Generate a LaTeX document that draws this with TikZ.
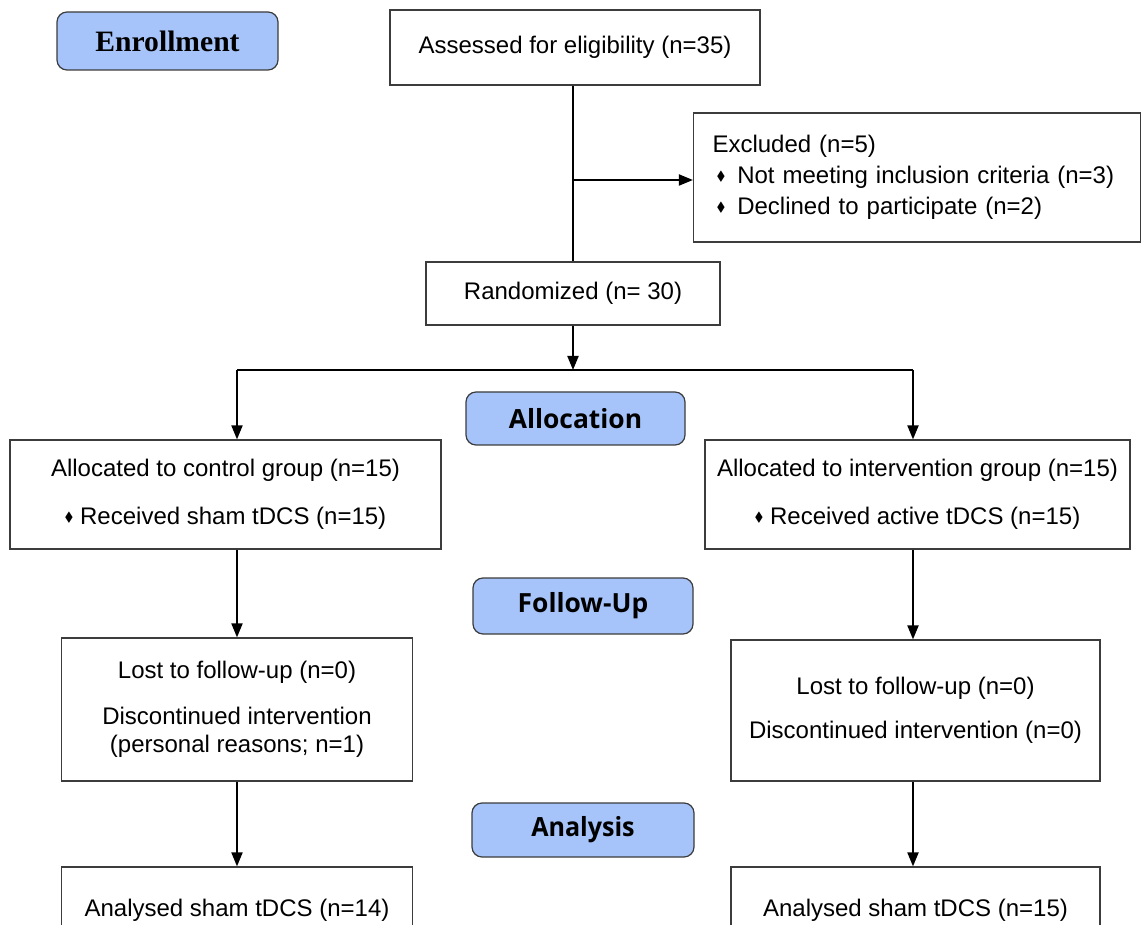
\documentclass[tikz,border=0pt]{standalone}
\usepackage{amssymb}
\usepackage{fontspec}
\setmainfont{Liberation Sans}
\newfontfamily\headfont{Open Sans}
\newfontfamily\serifhead{Liberation Serif}
\usetikzlibrary{positioning,shapes,arrows,arrows.meta}

\definecolor{stageblue}{RGB}{166,196,250}
\definecolor{edgegray}{RGB}{60,60,60}
\newcommand{\dia}{\raisebox{0.25ex}{\scalebox{0.55}{$\blacklozenge$}}\ }

\tikzset{
  box/.style={draw=edgegray,line width=0.6pt,align=center,inner sep=0pt,font=\fontsize{12}{14}\selectfont},
  stage/.style={draw=edgegray,line width=0.6pt,rounded corners=5pt,fill=stageblue,inner sep=0pt,font=\headfont\bfseries\fontsize{13.2}{16}\selectfont},
  flow/.style={line width=1pt,-{Triangle[length=7pt,width=5.5pt]}},
  plain/.style={line width=1pt}
}

\begin{document}
\begin{tikzpicture}[x=0.5pt,y=-0.5pt]
        \path[use as bounding box,clip] (0,0) rectangle (1142,925);
        % stage labels
        \node[stage,minimum width=110.5pt,minimum height=29pt,font=\serifhead\bfseries\fontsize{14.8}{16}\selectfont] (enrol) at (167.5,41) {Enrollment};
        \node[stage,minimum width=109.5pt,minimum height=26.5pt] (alloc) at (575.5,418.5) {Allocation};
        \node[stage,minimum width=110pt,minimum height=28pt] (follow) at (583,606) {Follow-Up};
        \node[stage,minimum width=111pt,minimum height=27pt] (anal) at (583,830) {\scalebox{0.95}[1]{Analysis}};
        % boxes
        \node[box,minimum width=185pt,minimum height=37.5pt] (assess) at (575,47.5) {Assessed for eligibility (n=35)};
        \node[box,minimum height=64.5pt,align=left,text width=204.5pt,inner xsep=9.5pt] (excl) at (917,177.5)
            {Excluded (n=5)\\[1.5pt]
             \hspace*{2pt}\dia\hspace*{2pt}Not meeting inclusion criteria (n=3)\\[1.5pt]
             \hspace*{2pt}\dia\hspace*{2pt}Declined to participate (n=2)};
        \node[box,minimum width=147pt,minimum height=31.5pt] (rand) at (573,293.5) {Randomized (n= 30)};
        \node[box,minimum width=215.5pt,minimum height=54.5pt] (ctrl) at (225.5,494.5)
            {Allocated to control group (n=15)\\[10pt] \dia Received sham tDCS (n=15)};
        \node[box,minimum width=212.5pt,minimum height=54.5pt] (intv) at (917.5,494.5)
            {Allocated to intervention group (n=15)\\[10pt] \dia Received active tDCS (n=15)};
        \node[box,minimum width=175.5pt,minimum height=71.5pt] (lostc) at (237,709.5)
            {Lost to follow-up (n=0)\\[9pt] Discontinued intervention\\ (personal reasons; n=1)};
        \node[box,minimum width=184.5pt,minimum height=70.5pt] (losti) at (915.5,710.5)
            {Lost to follow-up (n=0)\\[8pt] Discontinued intervention (n=0)};
        \node[box,minimum width=175.5pt,minimum height=43pt] (anac) at (237,910) {Analysed sham tDCS (n=14)};
        \node[box,minimum width=184.5pt,minimum height=43pt] (anai) at (915.5,910) {Analysed sham tDCS (n=15)};
        % connectors
        \coordinate (br) at (573,180);
        \coordinate (split) at (573,370);
        \coordinate (cl) at (237,370);
        \coordinate (cr) at (913,370);
        \draw[plain] (rand.north |- assess.south) -- (rand.north);
        \draw[flow] (br) -- (excl.west |- br);
        \draw[flow] (rand) -- (split);
        \draw[plain] (cl) -- (cr);
        \draw[flow] (cl) -- (cl |- ctrl.north);
        \draw[flow] (cr) -- (cr |- intv.north);
        \draw[flow] (cl |- ctrl.south) -- (cl |- lostc.north);
        \draw[flow] (cr |- intv.south) -- (cr |- losti.north);
        \draw[flow] (cl |- lostc.south) -- (cl |- anac.north);
        \draw[flow] (cr |- losti.south) -- (cr |- anai.north);
    \end{tikzpicture}
\end{document}
